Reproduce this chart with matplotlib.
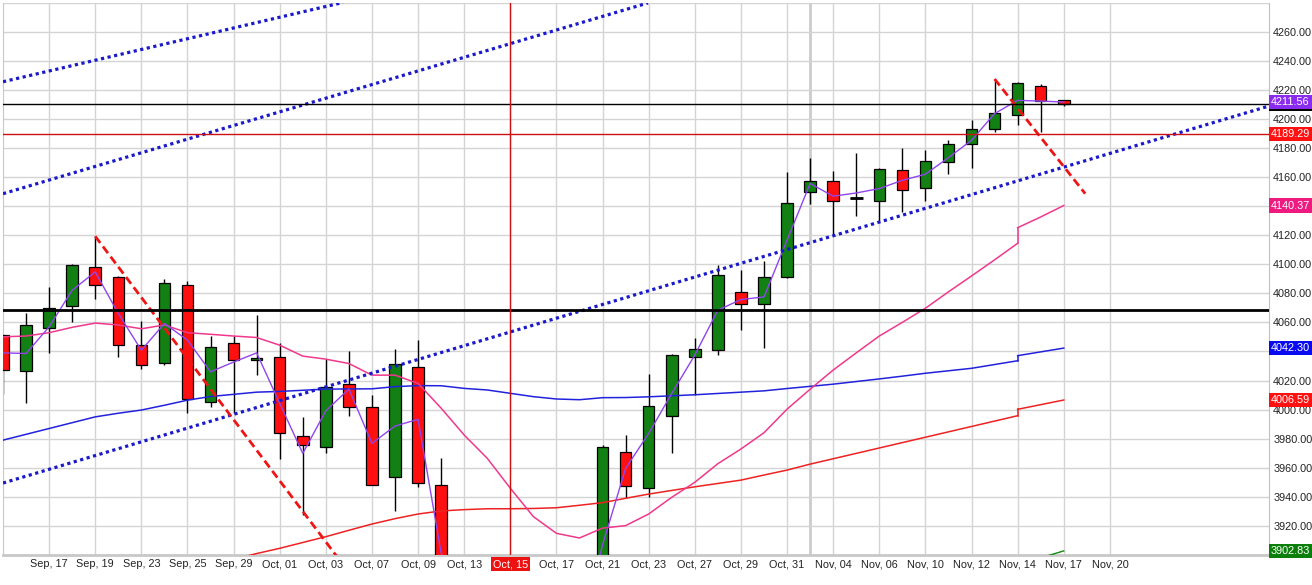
import numpy as np
import matplotlib.pyplot as plt
from matplotlib.transforms import blended_transform_factory

plt.rcParams['font.family'] = ['Liberation Sans', 'DejaVu Sans']

# bar index 0 = Sep 17, first bar shown is index -2
first_bar = -2
opens = [4051.0, 4026.3, 4055.8, 4071.0, 4098.4, 4091.5, 4044.1, 4031.8, 4085.4, 4004.9,
         4045.5, 4033.9, 4035.9, 3981.6, 3974.0, 4017.3, 4001.5, 3953.4, 4029.0, 3948.1,
         3855.0, 3845.0, 3835.0, 3840.0, 3850.0, 3842.0, 3858.0, 3970.6, 3946.3, 3995.3,
         4035.9, 4040.7, 4080.6, 4072.3, 4091.3, 4150.0, 4157.5, 4145.2, 4143.8, 4164.6,
         4152.7, 4170.6, 4183.0, 4193.0, 4202.9, 4222.8, 4213.2]
highs = [4052.0, 4066.1, 4084.2, 4100.0, 4119.2, 4092.0, 4061.0, 4089.7, 4088.3, 4050.5,
         4050.5, 4065.0, 4045.5, 3994.6, 4034.5, 4040.2, 4010.0, 4041.4, 4047.8, 3966.9,
         3880.0, 3870.0, 3865.0, 3872.0, 3880.0, 3875.0, 3975.6, 3982.7, 4024.4, 4038.0,
         4049.4, 4099.3, 4095.9, 4102.0, 4163.4, 4173.3, 4164.1, 4176.3, 4166.5, 4179.7,
         4178.4, 4185.7, 4199.0, 4227.0, 4225.4, 4223.7, 4213.2]
lows = [4010.4, 4004.3, 4039.0, 4060.3, 4075.8, 4035.9, 4027.6, 4030.8, 3997.8, 4001.5,
        3998.0, 4023.7, 3965.8, 3927.5, 3970.3, 3995.5, 3947.9, 3930.4, 3947.0, 3845.0,
        3830.0, 3825.0, 3815.0, 3825.0, 3835.0, 3830.0, 3850.0, 3939.4, 3939.6, 3970.3,
        4010.0, 4037.7, 4054.8, 4042.5, 4090.2, 4141.7, 4119.9, 4133.2, 4129.8, 4136.0,
        4143.5, 4162.1, 4166.2, 4191.0, 4195.5, 4190.7, 4208.8]
closes = [4027.0, 4057.9, 4070.2, 4099.3, 4085.4, 4044.1, 4030.4, 4087.4, 4007.0, 4043.2,
          4033.8, 4035.3, 3983.6, 3975.4, 4015.3, 4001.9, 3948.3, 4031.1, 3949.3, 3853.0,
          3845.0, 3835.0, 3840.0, 3850.0, 3842.0, 3840.0, 3974.0, 3947.2, 4002.4, 4037.9,
          4041.4, 4092.9, 4072.3, 4091.5, 4142.4, 4157.5, 4143.8, 4145.2, 4165.8, 4150.7,
          4171.3, 4183.0, 4193.0, 4204.3, 4224.9, 4212.0, 4210.0]

# indicator lines (one value per bar, same indexing as candles)
fast_ma = [4039.0, 4038.6, 4056.9, 4082.1, 4094.7, 4066.1, 4040.9, 4059.2, 4047.8, 4026.0,
           4032.7, 4039.0, 4004.3, 3969.9, 3999.2, 4014.1, 3976.8, 3988.7, 3993.3, 3901.4,
           3850.0, 3838.0, 3835.0, 3840.0, 3845.0, 3842.0, 3907.0, 3959.6, 3983.6, 4011.1,
           4037.5, 4068.4, 4075.7, 4077.5, 4116.5, 4155.5, 4146.8, 4149.0, 4152.0, 4157.7,
           4161.9, 4173.3, 4185.2, 4203.6, 4212.7, 4212.2, 4211.56]
pink_ma = [4050.1, 4050.6, 4052.9, 4056.6, 4059.5, 4058.2, 4055.6, 4058.2, 4052.9, 4051.8,
           4050.6, 4049.6, 4044.3, 4036.8, 4034.7, 4031.7, 4023.7, 4023.7, 4018.0, 4001.0,
           3982.5, 3966.5, 3945.9, 3926.4, 3914.9, 3911.7, 3918.5, 3920.2, 3928.2, 3939.7,
           3950.0, 3962.8, 3972.9, 3984.1, 4000.3, 4014.0, 4027.2, 4039.0, 4050.6, 4060.0,
           4069.7, 4081.0, 4091.9, 4103.0, 4114.4]
pink_tail = [4125.1, 4132.5, 4140.37]
blue_ma = [3979.0, 3983.0, 3987.0, 3991.0, 3995.0, 3997.5, 3999.7, 4003.0, 4006.5, 4009.0,
           4010.5, 4012.0, 4012.5, 4013.3, 4014.1, 4014.2, 4014.3, 4015.8, 4016.5, 4016.4,
           4014.6, 4013.5, 4011.2, 4008.9, 4007.3, 4006.8, 4008.2, 4008.3, 4008.8, 4009.5,
           4010.2, 4011.1, 4012.0, 4012.9, 4014.5, 4016.0, 4017.5, 4019.3, 4021.1, 4023.0,
           4025.0, 4026.7, 4028.4, 4031.0, 4033.6]
blue_tail = [4037.1, 4039.7, 4042.30]
red_ma = [np.nan] * 10 + [
          3897.0, 3901.0, 3904.6, 3908.6, 3912.6, 3917.0, 3921.3, 3925.0, 3928.2, 3930.3,
          3931.2, 3931.8, 3931.8, 3932.0, 3932.5, 3934.2, 3936.0, 3939.0, 3941.9, 3944.4,
          3946.9, 3949.2, 3951.5, 3955.0, 3958.4, 3962.5, 3966.2, 3969.9, 3973.6, 3977.3,
          3981.0, 3984.7, 3988.4, 3992.1, 3995.8]
red_tail = [4000.2, 4003.4, 4006.59]
green_tail = [3885.0, 3898.0, 3902.83]
jump_bar = 42

tick_labels = ['Sep, 17', 'Sep, 19', 'Sep, 23', 'Sep, 25', 'Sep, 29', 'Oct, 01', 'Oct, 03',
               'Oct, 07', 'Oct, 09', 'Oct, 13', 'Oct, 15', 'Oct, 17', 'Oct, 21', 'Oct, 23',
               'Oct, 27', 'Oct, 29', 'Oct, 31', 'Nov, 04', 'Nov, 06', 'Nov, 10', 'Nov, 12',
               'Nov, 14', 'Nov, 17', 'Nov, 20']
marked_day = 'Oct, 15'
month_start_bar = 33

# drawn objects: trend channel and resistance lines (bar index, price)
channel_top = [(-2.0, 4225.5), (12.74, 4280.0)]
channel_mid = [(-2.0, 4148.5), (25.97, 4279.7)]
channel_low = [(-2.0, 3949.5), (52.9, 4208.8)]
down_trend1 = [(2.0, 4119.2), (14.0, 3867.0)]
down_trend2 = [(41.0, 4227.4), (44.93, 4148.5)]
support_level = 4068.2
red_level = 4189.29

fig = plt.figure(figsize=(13.12, 5.85), dpi=100)
ax = fig.add_axes([3 / 1312, 30 / 585, 1266 / 1312, 552.5 / 585])

x = np.arange(first_bar, first_bar + len(closes))
o = np.array(opens)
h = np.array(highs)
l = np.array(lows)
c = np.array(closes)
up = c >= o

# grid
for k in range(0, 2 * len(tick_labels), 2):
    ax.axvline(k, color='#d4d4d4', lw=1, zorder=0)
ax.axvline(month_start_bar, color='#cccccc', lw=2, zorder=0)
for yv in np.arange(3920, 4281, 20):
    ax.axhline(yv, color='#d4d4d4', lw=1, zorder=0)

# candles
ax.vlines(x, l, h, color='black', lw=1, zorder=2)
body_col = np.where(up, '#128012', '#ff1010')
ax.bar(x, np.abs(c - o), bottom=np.minimum(o, c), width=0.5, color=body_col,
       edgecolor='black', linewidth=0.9, zorder=3)
doji = c == o
ax.hlines(c[doji], x[doji] - 0.28, x[doji] + 0.28, color='black', lw=2, zorder=3)

# moving averages
n_ma = len(pink_ma)
tail_x = np.arange(jump_bar, jump_bar + len(pink_tail))
for body, tail, col in ((red_ma, red_tail, '#ee2222'),
                        (blue_ma, blue_tail, '#2222dd'),
                        (pink_ma, pink_tail, '#f0388c')):
    ax.plot(x[:len(body)], body, color=col, lw=1.1, zorder=4)
    ax.plot(tail_x, tail, color=col, lw=1.1, zorder=4)
    ax.plot([jump_bar, jump_bar], [body[-1], tail[0]], color=col, lw=1.1, zorder=4)
ax.plot(tail_x, green_tail, color='#118811', lw=1.0, zorder=4)
ax.plot(x, fast_ma, color='#9045ee', lw=1.0, zorder=5)

# drawing tools
for seg in (channel_top, channel_mid, channel_low):
    ax.plot(*zip(*seg), color='#1a1acc', lw=2.3, linestyle=(0, (1, 1.1)), zorder=6)
for seg in (down_trend1, down_trend2):
    ax.plot(*zip(*seg), color='#ee1515', lw=2.0, linestyle=(0, (3, 1.6)), zorder=6)
ax.axhline(support_level, color='black', lw=2, zorder=6)
ax.axhline(c[-1], color='black', lw=1, zorder=6)
ax.axhline(red_level, color='#cc1111', lw=1, zorder=6)
ax.axvline(tick_labels.index(marked_day) * 2, color='#cc1111', lw=1, zorder=6)

ax.set_xlim(-2.0, 52.9)
ax.set_ylim(3900, 4280)

ax.set_xticks(range(0, 2 * len(tick_labels), 2))
ax.set_xticklabels(tick_labels)
ax.set_yticks(np.arange(3920, 4261, 20))
ax.yaxis.tick_right()
ax.yaxis.set_major_formatter(plt.FuncFormatter(lambda v, p: f'{v:.2f}'))
ax.tick_params(axis='both', length=0, labelsize=7.8, colors='#222222')
ax.tick_params(axis='x', pad=3)
ax.tick_params(axis='y', pad=3)
for t in ax.get_xticklabels():
    if t.get_text() == marked_day:
        t.set_color('white')
        t.set_bbox(dict(facecolor='#ee1111', edgecolor='none', pad=1.5))

ax.spines['top'].set_visible(False)
ax.spines['bottom'].set_color('#c8c8c8')
ax.spines['bottom'].set_linewidth(2)
ax.spines['left'].set_color('#c8c8c8')
ax.spines['right'].set_color('#c0c0c0')

# value tags on the price axis
trans = blended_transform_factory(ax.transAxes, ax.transData)
tags = [(c[-1], 'black'), (fast_ma[-1], '#8a2cf0'), (red_level, '#ff1111'),
        (pink_tail[-1], '#ee1a80'), (blue_tail[-1], '#0a0af0'), (red_tail[-1], '#ff1111'),
        (green_tail[-1], '#0a800a')]
for val, col in tags:
    ax.text(1.0015, val, f'{val:.2f}', transform=trans, ha='left', va='center',
            fontsize=7.8, color='white', clip_on=False, zorder=10,
            bbox=dict(facecolor=col, edgecolor='none', pad=1.5))

fig.savefig('out.png', dpi=100)
